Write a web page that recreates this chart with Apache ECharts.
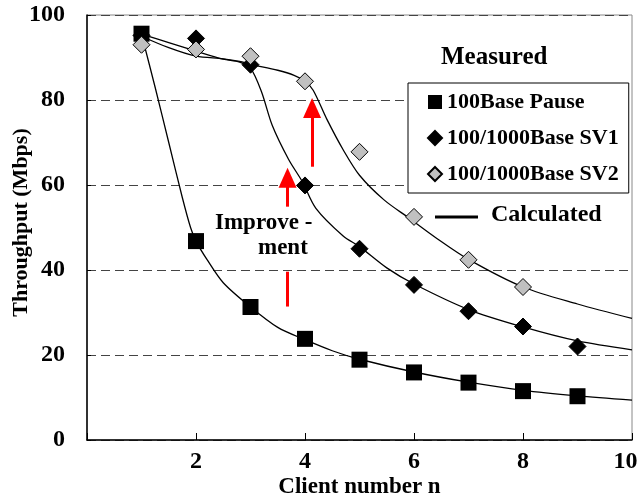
<!DOCTYPE html>
<html>
<head>
    <meta charset="utf-8" />
    <title>Throughput vs client number</title>
    <style>
        html, body { margin: 0; padding: 0; background: #fff; }
        #chart { width: 638px; height: 501px; }
    </style>
</head>
<body>
    <div id="chart"></div>
    <script src="https://cdn.jsdelivr.net/npm/echarts@6/dist/echarts.min.js"></script>
    <script>
        // measured points (x = client number)
        var pauseX = [1, 2, 3, 4, 5, 6, 7, 8, 9];
        var pauseY = [95.6, 46.8, 31.3, 23.8, 18.9, 15.9, 13.5, 11.5, 10.3];
        var sv1X = [1, 2, 3, 4, 5, 6, 7, 8, 9];
        var sv1Y = [95.2, 94.5, 88.3, 59.9, 45.0, 36.5, 30.3, 26.7, 22.0];
        var sv2X = [1, 2, 3, 4, 5, 6, 7, 8];
        var sv2Y = [93.0, 91.9, 90.3, 84.4, 67.8, 52.5, 42.4, 36.0];

        // calculated curves
        var calcPauseX = [1, 1.25, 1.5, 1.75, 1.9, 2, 2.2, 2.5, 3, 3.5, 4, 4.5, 5, 6, 7, 8, 9, 10];
        var calcPauseY = [95.5, 83, 70, 57, 50, 46.8, 42.5, 37, 31.3, 26.5, 23.6, 21, 19, 16, 13.6, 11.7, 10.4, 9.4];
        var calcSv1X = [1, 1.5, 2, 2.5, 2.8, 3, 3.2, 3.4, 3.7, 3.95, 4.2, 4.7, 5, 5.5, 6, 7, 8, 9, 10];
        var calcSv1Y = [95.5, 93.5, 91.5, 89.6, 88.9, 87.5, 82, 74, 66, 60.8, 54.5, 48, 45.5, 40.5, 36.7, 30.7, 26.6, 23.3, 21.2];
        var calcSv2X = [1, 1.5, 2, 2.5, 2.8, 3, 3.5, 3.8, 4, 4.15, 4.4, 4.7, 5, 5.45, 5.9, 6.4, 7, 8, 9, 10];
        var calcSv2Y = [95, 92.3, 90.3, 89.7, 89.1, 88.4, 87, 85.8, 84.4, 82.3, 75.5, 68.3, 62.3, 56.5, 52.3, 47.6, 42.5, 36, 32, 28.6];

        // red "improvement" marks: [x, yFrom, yTo]
        var arrowLow = [3.68, 54.9, 61.7];
        var arrowHigh = [4.13, 64.3, 78.1];
        var stemMark = [3.68, 31.4, 39.6];

        var seriesNames = ['100Base Pause', '100/1000Base SV1', '100/1000Base SV2'];
        var fontName = 'Liberation Serif';

        function pairs(xs, ys) {
            var out = [];
            for (var i = 0; i < xs.length; i++) out.push([xs[i], ys[i]]);
            return out;
        }

        function calcLine(xs, ys) {
            return {
                type: 'line',
                data: pairs(xs, ys),
                smooth: 0.3,
                showSymbol: false,
                symbol: 'none',
                silent: true,
                z: 2,
                lineStyle: { color: '#000', width: 1.3 }
            };
        }

        function redMark(m, withHead) {
            return [
                { coord: [m[0], m[1]], symbol: 'none' },
                { coord: [m[0], m[2]], symbol: withHead ? 'triangle' : 'none', symbolSize: [18, 20] }
            ];
        }

        var axisFont = { fontFamily: fontName, fontWeight: 'bold', fontSize: 24, color: '#000' };

        var myChart = echarts.init(document.getElementById('chart'));
        var option = {
            animation: false,
            backgroundColor: '#fff',
            grid: {
                left: 87, right: 6, top: 15, bottom: 61,
                containLabel: false, outerBoundsMode: 'none',
                show: true, borderColor: '#888', borderWidth: 1
            },
            xAxis: {
                type: 'value', min: 0, max: 10, interval: 2,
                axisLine: { lineStyle: { color: '#000', width: 1.5 } },
                axisTick: { inside: true, length: 7, lineStyle: { color: '#000' } },
                axisLabel: Object.assign({
                    margin: 10,
                    formatter: function (v) { return v === 0 ? '' : (v === 10 ? '{r|10}' : v); },
                    rich: { r: { fontFamily: fontName, fontWeight: 'bold', fontSize: 24, color: '#000', padding: [0, 13, 0, 0] } }
                }, axisFont),
                splitLine: { show: false },
                name: 'Client number n', nameLocation: 'middle', nameGap: 36, nameMoveOverlap: false,
                nameTextStyle: { fontFamily: fontName, fontWeight: 'bold', fontSize: 23, color: '#000' }
            },
            yAxis: {
                type: 'value', min: 0, max: 100, interval: 20,
                axisLine: { show: true, lineStyle: { color: '#000', width: 1.5 } },
                axisTick: { show: true, inside: true, length: 4, lineStyle: { color: '#000' } },
                axisLabel: Object.assign({ margin: 22 }, axisFont),
                splitLine: { show: true, lineStyle: { color: '#444', type: [9, 5], width: 1 } },
                name: 'Throughput (Mbps)', nameLocation: 'middle', nameGap: 55, nameMoveOverlap: false,
                nameTextStyle: { fontFamily: fontName, fontWeight: 'bold', fontSize: 22, color: '#000', padding: [0, 0, 0, 10] }
            },
            legend: {
                data: [
                    { name: seriesNames[0], icon: 'rect' },
                    { name: seriesNames[1], icon: 'diamond' },
                    { name: seriesNames[2], icon: 'diamond' }
                ],
                orient: 'vertical',
                left: 408, top: 83,
                padding: [8, 10, 8, 19],
                itemWidth: 14, itemHeight: 14,
                itemGap: 14,
                borderColor: '#000', borderWidth: 1,
                backgroundColor: '#fff',
                selectedMode: false,
                textStyle: { fontFamily: fontName, fontWeight: 'bold', fontSize: 22, color: '#000', lineHeight: 21 }
            },
            graphic: [
                { type: 'text', left: 441, top: 45, z: 10,
                  style: { text: 'Measured', font: 'bold 25px "Liberation Serif"', fill: '#000' } },
                { type: 'line', z: 10, shape: { x1: 435, y1: 217, x2: 478, y2: 217 },
                  style: { stroke: '#000', lineWidth: 3 } },
                { type: 'text', left: 491, top: 203, z: 10,
                  style: { text: 'Calculated', font: 'bold 24px "Liberation Serif"', fill: '#000' } },
                { type: 'text', left: 215, top: 212, z: 10,
                  style: { text: 'Improve -', font: 'bold 23px "Liberation Serif"', fill: '#000' } },
                { type: 'text', left: 258, top: 237, z: 10,
                  style: { text: 'ment', font: 'bold 23px "Liberation Serif"', fill: '#000' } }
            ],
            series: [
                calcLine(calcPauseX, calcPauseY),
                calcLine(calcSv1X, calcSv1Y),
                calcLine(calcSv2X, calcSv2Y),
                {
                    name: seriesNames[1], type: 'scatter', data: pairs(sv1X, sv1Y),
                    symbol: 'diamond', symbolSize: 17, z: 3,
                    itemStyle: { color: '#000', borderColor: '#000', borderWidth: 1, opacity: 1 }
                },
                {
                    name: seriesNames[0], type: 'scatter', data: pairs(pauseX, pauseY),
                    symbol: 'rect', symbolSize: 16, z: 4,
                    itemStyle: { color: '#000', opacity: 1 }
                },
                {
                    name: seriesNames[2], type: 'scatter', data: pairs(sv2X, sv2Y),
                    symbol: 'diamond', symbolSize: 17, z: 5,
                    itemStyle: { color: '#c0c0c0', borderColor: '#000', borderWidth: 1, opacity: 1 }
                },
                {
                    name: 'improvement', type: 'line', data: [], silent: true, z: 6,
                    markLine: {
                        silent: true,
                        animation: false,
                        label: { show: false },
                        lineStyle: { color: '#ff0000', width: 3, type: 'solid' },
                        itemStyle: { color: '#ff0000' },
                        emphasis: { disabled: true },
                        data: [redMark(arrowLow, true), redMark(arrowHigh, true), redMark(stemMark, false)]
                    }
                }
            ]
        };
        myChart.setOption(option);
    </script>
</body>
</html>
